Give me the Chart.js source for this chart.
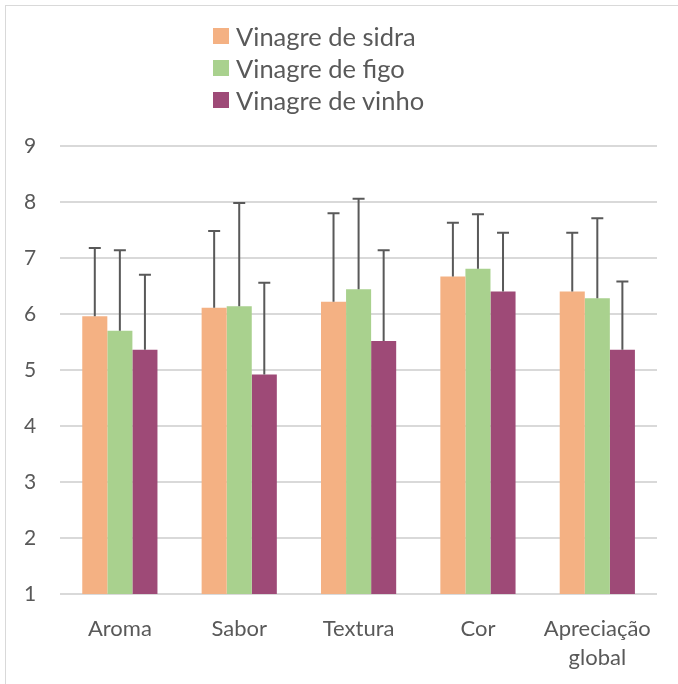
<!DOCTYPE html>
<html>
<head>
<meta charset="utf-8">
<script src="https://cdn.jsdelivr.net/npm/chart.js@4.4.1/dist/chart.umd.min.js"></script>
<style>
  html, body { margin: 0; padding: 0; background: #fff; }
  #wrap { position: relative; width: 678px; height: 684px; }
  #frame { position: absolute; left: 5px; top: 5px; width: 700px; height: 700px;
           border-left: 1px solid #d9d9d9; border-top: 1px solid #d9d9d9; pointer-events: none; }
  #legend { position: absolute; left: 213px; top: 20px; font-family: Lato, "Open Sans", sans-serif;
            font-size: 25.5px; color: #595959; }
  .item { height: 32px; display: flex; align-items: center; }
  .box { width: 16px; height: 16px; margin-right: 7px; }
</style>
</head>
<body>
<div id="wrap">
  <canvas id="chart" width="678" height="684"></canvas>
  <div id="frame"></div>
  <div id="legend"></div>
</div>
<script>
// ---------------- Data ----------------
const categories = ["Aroma", "Sabor", "Textura", "Cor", ["Apreciação", "global"]];
const seriesNames = ["Vinagre de sidra", "Vinagre de figo", "Vinagre de vinho"];
const seriesColors = ["#F4B183", "#A9D18E", "#9E4A77"];

const sidra = [5.96, 6.11, 6.22, 6.67, 6.40];
const figo  = [5.70, 6.14, 6.44, 6.81, 6.28];
const vinho = [5.36, 4.92, 5.52, 6.40, 5.36];

// standard deviations (upper error bars only)
const sidraErr = [1.22, 1.37, 1.58, 0.96, 1.05];
const figoErr  = [1.44, 1.84, 1.62, 0.97, 1.43];
const vinhoErr = [1.34, 1.64, 1.62, 1.05, 1.22];

const yTicks = [1, 2, 3, 4, 5, 6, 7, 8, 9];

const values = [sidra, figo, vinho];
const errors = [sidraErr, figoErr, vinhoErr];

// ---------------- Error bars plugin ----------------
const errorBars = {
    id: "errorBars",
    afterDatasetsDraw(chart) {
        const ctx = chart.ctx;
        const yScale = chart.scales.y;
        ctx.save();
        ctx.strokeStyle = "#595959";
        ctx.lineWidth = 2;
        chart.data.datasets.forEach((ds, i) => {
            const meta = chart.getDatasetMeta(i);
            meta.data.forEach((bar, j) => {
                const top = yScale.getPixelForValue(ds.data[j] + ds.errors[j]);
                ctx.beginPath();
                ctx.moveTo(bar.x, bar.y);
                ctx.lineTo(bar.x, top);
                ctx.moveTo(bar.x - 6, top);
                ctx.lineTo(bar.x + 6, top);
                ctx.stroke();
            });
        });
        ctx.restore();
    }
};

// ---------------- Chart ----------------
const ctx = document.getElementById("chart").getContext("2d");
new Chart(ctx, {
    type: "bar",
    data: {
        labels: categories,
        datasets: seriesNames.map((name, i) => ({
            label: name,
            data: values[i],
            errors: errors[i],
            backgroundColor: seriesColors[i],
            borderWidth: 0,
            categoryPercentage: 0.63,
            barPercentage: 1.0
        }))
    },
    options: {
        responsive: false,
        animation: false,
        layout: { padding: { top: 146, right: 21, bottom: 0, left: 0 } },
        plugins: { legend: { display: false }, tooltip: { enabled: false } },
        scales: {
            x: {
                grid: { display: false, drawTicks: false },
                border: { display: false },
                ticks: { color: "#595959", font: { family: "Lato", size: 22, lineHeight: 1.3 }, padding: 21, maxRotation: 0 },
                afterFit: (scale) => { scale.height = 90; }
            },
            y: {
                min: yTicks[0],
                max: yTicks[yTicks.length - 1],
                afterBuildTicks: (scale) => { scale.ticks = yTicks.map(v => ({ value: v })); },
                grid: { color: "#d9d9d9", lineWidth: 2, drawTicks: false },
                border: { display: false },
                ticks: { color: "#595959", font: { family: "Lato", size: 21 }, padding: 24 }
            }
        }
    },
    plugins: [errorBars]
});

// ---------------- Legend ----------------
const legend = document.getElementById("legend");
seriesNames.forEach((name, i) => {
    const row = document.createElement("div");
    row.className = "item";
    row.innerHTML = `<span class="box" style="background:${seriesColors[i]}"></span><span>${name}</span>`;
    legend.appendChild(row);
});
</script>
</body>
</html>
